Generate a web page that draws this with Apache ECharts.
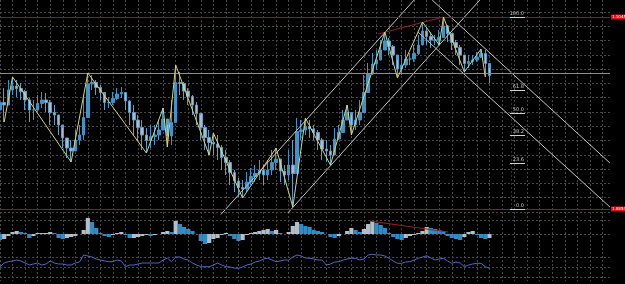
<!DOCTYPE html>
<html lang="en">
<head>
<meta charset="UTF-8">
<title>Chart</title>
<script src="https://cdn.jsdelivr.net/npm/echarts@6/dist/echarts.min.js"></script>
<style>
    html, body {margin: 0; padding: 0; background: #000;}
    #main {width: 625px; height: 284px;}
</style>
</head>
<body>
<div id="main"></div>
<script>
// price bars, pips above 1.0850, one bar per step
var barHigh = [117,124,132,135,132,129,122,114,112,117, 120,119,112,107,97,84,74,72,82,87,
    117,139,137,132,127,117,115,120,124,125, 120,112,107,97,92,84,87,87,92,104,
    87,112,147,140,130,124,117,110,97,87, 82,79,77,67,62,52,42,34,32,40,
    44,47,52,47,52,62,64,52,47,62, 72,94,92,94,92,87,82,74,72,67,
    84,87,102,107,97,102,112,137,149,159, 162,172,180,174,167,152,157,162,159,167,
    177,190,184,180,177,182,195,187,177,172, 167,157,157,157,160,163,162,144];
var barLow = [102,90,112,117,115,112,102,90,92,100, 104,100,87,87,77,64,54,50,62,67,
    72,117,122,117,112,102,104,107,112,114, 102,87,77,72,62,59,64,67,72,82,
    65,67,112,117,112,107,97,87,72,62, 57,57,52,42,37,27,20,15,14,20,
    27,30,32,27,32,37,42,30,27,32, 5,67,72,77,74,72,62,52,50,47,
    62,72,82,92,77,82,87,102,127,137, 142,152,162,157,147,134,137,144,147,150,
    157,172,167,164,167,167,177,170,162,157, 147,140,144,147,150,154,135,129];

// zigzag swing points
var zzBar = [1,3,17,21,35,39,40,42,50,51,58,66,70,73,79,83,84,92,95,101,105,106,111,115,116];
var zzVal = [90,135,50,139,59,104,65,147,57,79,14,64,5,94,47,107,77,180,134,190,167,195,140,163,135];

// histogram indicator
var histVal = [-6,-5,-2,2,3,2,1,-4,-2,1, 1,1,2,1,-4,-5,-4,-3,-2,0,
    4,16,12,6,1,-2,-3,-1,1,2, -1,-4,-4,-3,-2,-1,-2,-1,0,2,
    3,2,13,10,7,5,3,0,-7,-10, -9,-5,-4,-1,1,-2,-5,-7,-6,-1,
    1,2,3,4,5,3,4,1,0,2, 8,12,10,8,7,4,3,2,0,-3,
    -4,-2,0,3,6,4,2,5,10,13, 11,9,6,1,-3,-5,-6,-4,-2,-1,
    1,3,7,6,5,4,3,-2,-4,-5, -6,-3,2,3,-1,-4,-5,-4];

// oscillator line
var oscVal = [10.3,14,15.3,16,17,16,14,12,13,14, 12,13,16,14,13,13,12,12,14,15,
    22,21,20,18,17,16,15.3,15.3,17,16, 10.3,12,12,13,14,14,14,14,14,17,
    19,15.3,20,20,18,17,14,12,10.3,10.3, 10.3,12,14,12,10.3,10,9,8.7,10,12,
    13,15,16,18,18.7,17,15.3,16,17,17, 20,22,21,19,18.7,18,17,17,12,13,
    15,15.3,17,18,18.7,18.7,17,18,22,22.7, 22,22,21,18.7,16,13.7,13.7,15,15.3,17,
    18.7,20,21.3,19,17,18,18.7,16,13.7,15, 14,10.3,12,13,13.7,13.7,10.3,8.7];

// fibonacci
var fibNames = ['0.0', '23.6', '38.2', '50.0', '61.8', '100.0'];
var fibLow = 3, fibHigh = 195, fibBar = 122.2;
var priceLine = 139;
var tagTop = '1.1045', tagBottom = '1.0853';

// trend lines [bar, pips]
var channelUp1 = [[52.8, -2.5], [99.0, 212]];
var channelUp2 = [[68.8, -1], [114.7, 212]];
var channelDn1 = [[103.3, 212], [145.8, 49]];
var channelDn2 = [[99.9, 180], [145.8, 5]];
var redTrend = [[90.4, 178], [105.9, 195]];
var histTrend = [[88.4, 13], [107.1, 2]];

var gridColor = '#474747';
var myChart = echarts.init(document.getElementById('main'));

var candles = [];
var barMid = [];
for (var i = 0; i < barHigh.length; i++) {
    barMid.push((barHigh[i] + barLow[i]) / 2);
    var open = i === 0 ? barLow[i] : barMid[i - 1];
    candles.push([i, open, barMid[i], barLow[i], barHigh[i]]);
}
var zigzag = [];
for (var z = 0; z < zzBar.length; z++) zigzag.push([zzBar[z], zzVal[z]]);

var histData = [];
for (var h = 0; h < histVal.length; h++) {
    var rising = h > 0 && histVal[h] >= histVal[h - 1];
    histData.push({value: [h, histVal[h]], itemStyle: {color: rising ? '#b3bec8' : '#2f8cc4'}});
}
var oscData = [];
for (var o = 0; o < oscVal.length; o++) oscData.push([o, oscVal[o]]);

var tagLabel = function (txt) {
    return {show: true, position: 'end', distance: 1, formatter: txt, color: '#fff',
        backgroundColor: '#e01010', padding: [1, 1, 0, 1], fontSize: 4, fontFamily: 'DejaVu Sans'};
};
var fibMarks = [
    {yAxis: fibHigh, lineStyle: {color: '#8e1c1c', type: 'solid', width: 1}, label: tagLabel(tagTop)},
    {yAxis: fibLow, lineStyle: {color: '#8e1c1c', type: 'solid', width: 1}, label: tagLabel(tagBottom)},
    {yAxis: priceLine, lineStyle: {color: '#8c8c8c', type: 'solid', width: 1}, label: {show: false}},
    [{coord: [fibBar, fibLow], lineStyle: {color: '#7a1818', type: [2, 2], width: 1}, label: {show: false}},
     {coord: [fibBar, fibHigh]}]
];
for (var f = 0; f < fibNames.length; f++) {
    var lv = fibLow + parseFloat(fibNames[f]) / 100 * (fibHigh - fibLow);
    fibMarks.push([
        {coord: [121.9, lv], lineStyle: {color: '#d0d0d0', type: 'solid', width: 1},
         label: {show: true, position: 'insideEndTop', distance: 1, formatter: fibNames[f],
                 color: '#c8c8c8', fontSize: 5, fontFamily: 'DejaVu Sans'}},
        {coord: [125.5, lv]}
    ]);
}

var trendSeries = function (pts, color) {
    return {type: 'line', xAxisIndex: 1, yAxisIndex: 1, data: pts, symbol: 'none', clip: false,
        silent: true, lineStyle: {color: color, width: 1}, z: 4};
};

var option = {
    backgroundColor: '#000',
    animation: false,
    grid: [
        {left: 0, top: 0, width: 602.4, height: 281},
        {left: 0, top: 12, width: 610, height: 200},
        {left: 0, top: 220, width: 610, height: 14},
        {left: 0, top: 257, width: 610, height: 20}
    ],
    xAxis: [
        {gridIndex: 0, type: 'value', min: 0, max: 144, interval: 3, axisLine: {show: false},
         axisTick: {show: false}, axisLabel: {show: false},
         splitLine: {show: true, lineStyle: {color: gridColor, type: [2, 2], width: 1}}},
        {gridIndex: 1, type: 'value', min: 0, max: 145.82, show: false, splitLine: {show: false}},
        {gridIndex: 2, type: 'value', min: 0, max: 145.82, show: false, splitLine: {show: false}},
        {gridIndex: 3, type: 'value', min: 0, max: 145.82, show: false, splitLine: {show: false}}
    ],
    yAxis: [
        {gridIndex: 0, type: 'value', min: 0, max: 1, show: false, splitLine: {show: false}},
        {gridIndex: 1, type: 'value', min: 0, max: 200, interval: 200 / 14, axisLine: {show: false},
         axisTick: {show: false}, axisLabel: {show: false},
         splitLine: {show: true, lineStyle: {color: gridColor, type: [2, 2], width: 1}}},
        {gridIndex: 2, type: 'value', min: 0, max: 14, interval: 14, axisLine: {show: false},
         axisTick: {show: false}, axisLabel: {show: false},
         splitLine: {show: true, lineStyle: {color: gridColor, type: [2, 2], width: 1}}},
        {gridIndex: 3, type: 'value', min: 0, max: 20, interval: 10, axisLine: {show: false},
         axisTick: {show: false}, axisLabel: {show: false},
         splitLine: {show: true, lineStyle: {color: gridColor, type: [2, 2], width: 1}}}
    ],
    series: [
        {
            type: 'candlestick', xAxisIndex: 1, yAxisIndex: 1, barWidth: 3,
            encode: {x: 0, y: [1, 2, 3, 4]},
            itemStyle: {color: '#3f93c6', borderColor: '#3f93c6', color0: '#a9bccb', borderColor0: '#5d9cc6', borderWidth: 1},
            data: candles, z: 3
        },
        {
            type: 'line', xAxisIndex: 1, yAxisIndex: 1, data: zigzag, symbol: 'none', clip: false,
            lineStyle: {color: '#d6d47a', width: 1}, z: 5,
            markLine: {symbol: ['none', 'none'], silent: true, animation: false, data: fibMarks}
        },
        trendSeries(channelUp1, '#c4c4c4'),
        trendSeries(channelUp2, '#c4c4c4'),
        trendSeries(channelDn1, '#c4c4c4'),
        trendSeries(channelDn2, '#c4c4c4'),
        trendSeries(redTrend, '#9a2020'),
        {
            type: 'bar', xAxisIndex: 2, yAxisIndex: 2, barWidth: 4.2, clip: false,
            data: histData, z: 3
        },
        {
            type: 'line', xAxisIndex: 2, yAxisIndex: 2, data: histTrend, symbol: 'none', clip: false,
            lineStyle: {color: '#9a2020', width: 1}, z: 4
        },
        {
            type: 'line', xAxisIndex: 3, yAxisIndex: 3, data: oscData, symbol: 'none', clip: false,
            lineStyle: {color: '#4a6cc4', width: 1}, z: 3
        }
    ]
};
myChart.setOption(option);
</script>
</body>
</html>
